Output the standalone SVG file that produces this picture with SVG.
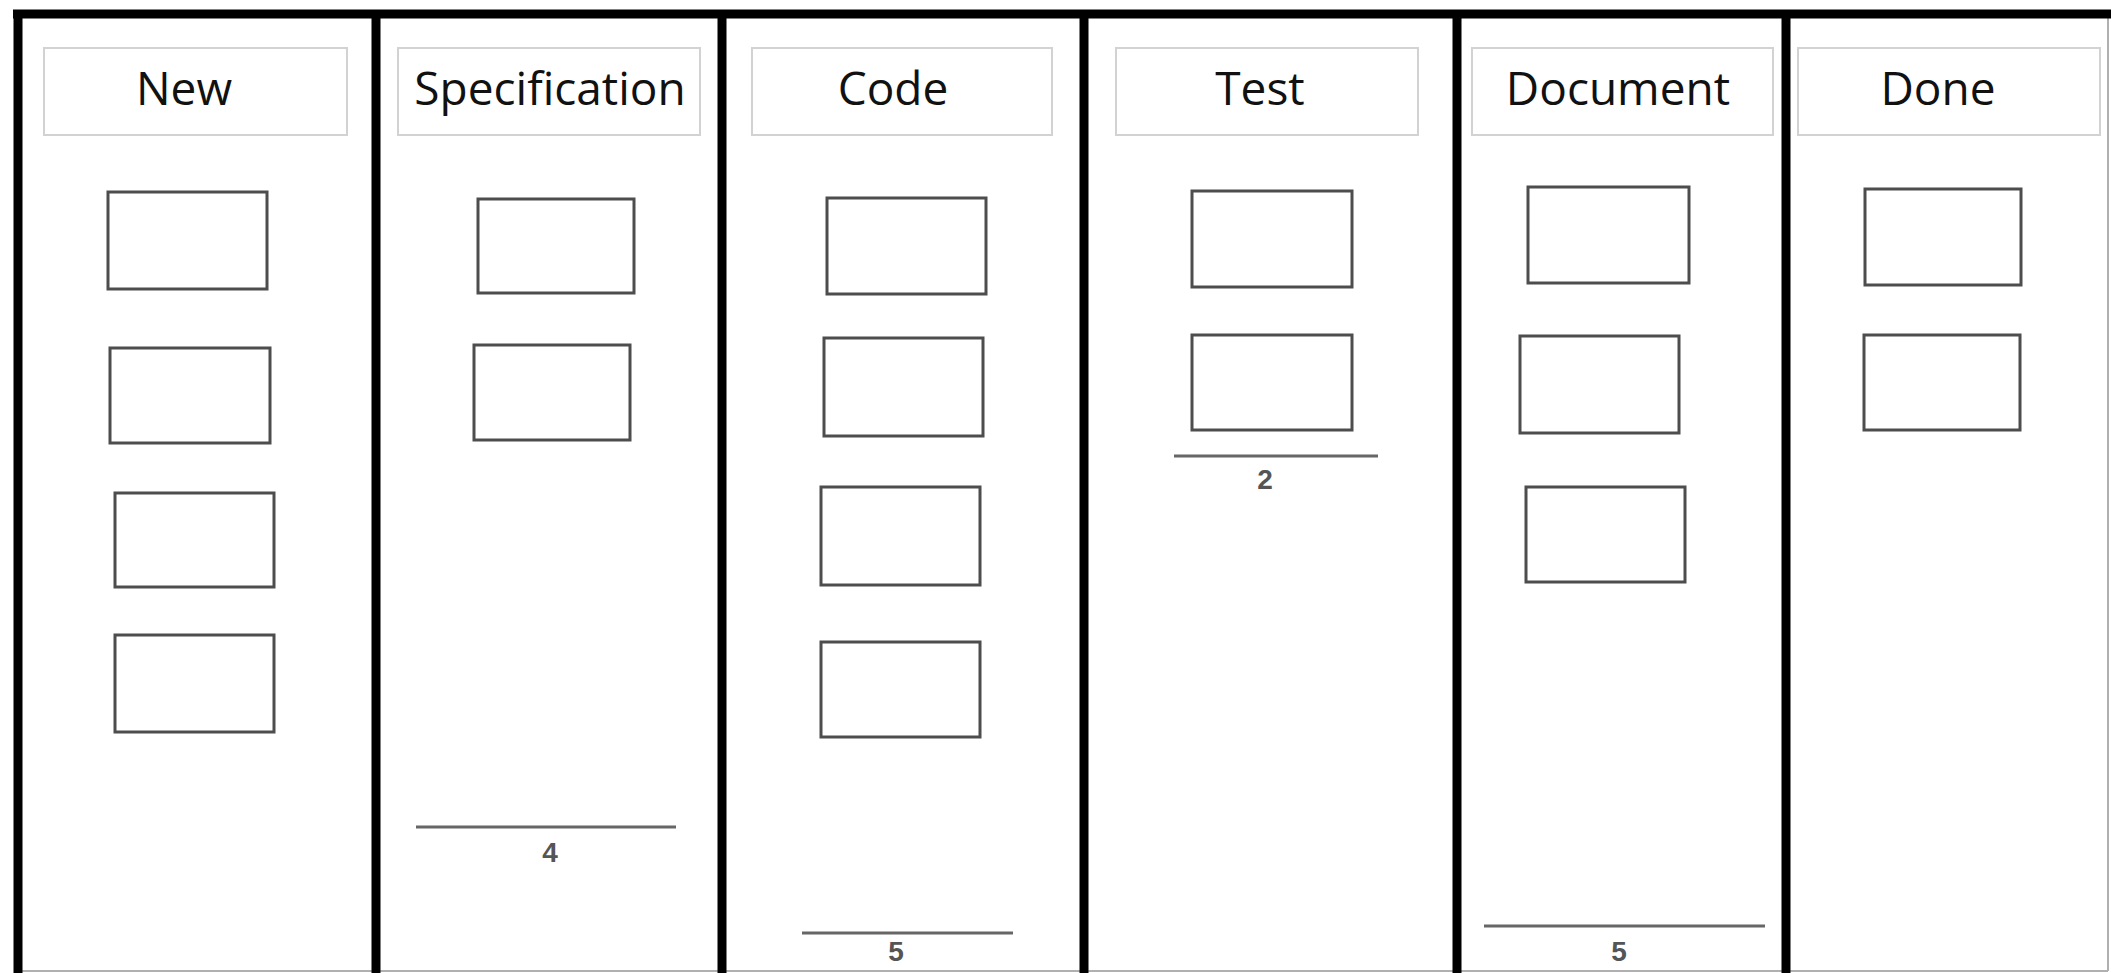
<svg xmlns="http://www.w3.org/2000/svg" width="2111" height="973" viewBox="0 0 2111 973">
<style>
.bg{fill:#ffffff}
.frame{stroke:#000;stroke-width:9;fill:none}
.edge{stroke:#b0b0b0;stroke-width:2;fill:none}
.hdr{fill:#fff;stroke:#d2d2d2;stroke-width:2}
.htxt{font-family:"Open Sans","Noto Sans","Liberation Sans",sans-serif;font-size:46px;fill:#111;text-anchor:middle}
.card{fill:#fff;stroke:#4d4d4d;stroke-width:3}
.wip{stroke:#666;stroke-width:3}
.num{font-family:"Liberation Sans",Arial,sans-serif;font-size:28px;font-weight:bold;fill:#555;text-anchor:middle}
</style>
<rect class="bg" x="0" y="0" width="2111" height="973"/>
<g id="board">
<line class="edge" x1="2108" y1="14" x2="2108" y2="971"/>
<line class="edge" x1="14" y1="971" x2="2108" y2="971"/>
<line class="frame" x1="13" y1="14" x2="2111" y2="14"/>
<line class="frame" x1="18" y1="10" x2="18" y2="973"/>
<line class="frame" x1="376" y1="10" x2="376" y2="973"/>
<line class="frame" x1="722" y1="10" x2="722" y2="973"/>
<line class="frame" x1="1084" y1="10" x2="1084" y2="973"/>
<line class="frame" x1="1457" y1="10" x2="1457" y2="973"/>
<line class="frame" x1="1786" y1="10" x2="1786" y2="973"/>
</g>
<g id="col-new">
<rect class="hdr" x="44" y="48" width="303" height="87"/>
<text class="htxt" x="184" y="105">New</text>
<rect id="new-1" class="card" x="108" y="192" width="159" height="97"/>
<rect id="new-2" class="card" x="110" y="348" width="160" height="95"/>
<rect id="new-3" class="card" x="115" y="493" width="159" height="94"/>
<rect id="new-4" class="card" x="115" y="635" width="159" height="97"/>
</g>
<g id="col-spec">
<rect class="hdr" x="398" y="48" width="302" height="87"/>
<text class="htxt" x="550" y="105">Specification</text>
<rect id="spec-1" class="card" x="478" y="199" width="156" height="94"/>
<rect id="spec-2" class="card" x="474" y="345" width="156" height="95"/>
<line class="wip" x1="416" y1="827" x2="676" y2="827"/>
<text class="num" x="550" y="862">4</text>
</g>
<g id="col-code">
<rect class="hdr" x="752" y="48" width="300" height="87"/>
<text class="htxt" x="893" y="105">Code</text>
<rect id="code-1" class="card" x="827" y="198" width="159" height="96"/>
<rect id="code-2" class="card" x="824" y="338" width="159" height="98"/>
<rect id="code-3" class="card" x="821" y="487" width="159" height="98"/>
<rect id="code-4" class="card" x="821" y="642" width="159" height="95"/>
<line class="wip" x1="802" y1="933" x2="1013" y2="933"/>
<text class="num" x="896" y="961">5</text>
</g>
<g id="col-test">
<rect class="hdr" x="1116" y="48" width="302" height="87"/>
<text class="htxt" x="1260" y="105">Test</text>
<rect id="test-1" class="card" x="1192" y="191" width="160" height="96"/>
<rect id="test-2" class="card" x="1192" y="335" width="160" height="95"/>
<line class="wip" x1="1174" y1="456" x2="1378" y2="456"/>
<text class="num" x="1265" y="489">2</text>
</g>
<g id="col-document">
<rect class="hdr" x="1472" y="48" width="301" height="87"/>
<text class="htxt" x="1618" y="105">Document</text>
<rect id="doc-1" class="card" x="1528" y="187" width="161" height="96"/>
<rect id="doc-2" class="card" x="1520" y="336" width="159" height="97"/>
<rect id="doc-3" class="card" x="1526" y="487" width="159" height="95"/>
<line class="wip" x1="1484" y1="926" x2="1765" y2="926"/>
<text class="num" x="1619" y="961">5</text>
</g>
<g id="col-done">
<rect class="hdr" x="1798" y="48" width="302" height="87"/>
<text class="htxt" x="1938" y="105">Done</text>
<rect id="done-1" class="card" x="1865" y="189" width="156" height="96"/>
<rect id="done-2" class="card" x="1864" y="335" width="156" height="95"/>
</g>
<g id="connectors"/>
</svg>
